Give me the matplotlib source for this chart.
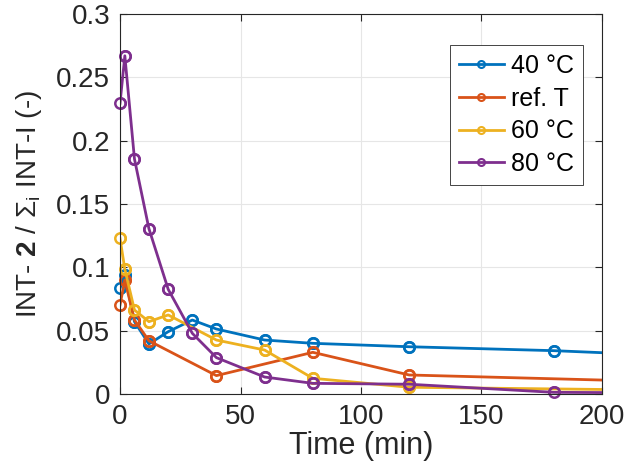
import numpy as np
import matplotlib
matplotlib.use('Agg')
import matplotlib.pyplot as plt

plt.rcParams['font.family'] = ['Liberation Sans', 'DejaVu Sans']
plt.rcParams['mathtext.fontset'] = 'custom'
plt.rcParams['mathtext.rm'] = 'Liberation Sans'
plt.rcParams['mathtext.it'] = 'Liberation Sans:italic'
plt.rcParams['mathtext.bf'] = 'Liberation Sans:bold'

# data (time in min)
t_40 = [0, 2, 6, 12, 20, 30, 40, 60, 80, 120, 180, 240]
v_40 = [0.0834, 0.094, 0.0571, 0.0395, 0.0492, 0.0584, 0.0513, 0.0426, 0.040, 0.0373, 0.0342, 0.0294]

t_ref = [0, 2, 6, 12, 40, 80, 120, 240]
v_ref = [0.0703, 0.090, 0.0584, 0.042, 0.0145, 0.0329, 0.015, 0.009]

t_60 = [0, 2, 6, 12, 20, 40, 60, 80, 120, 240]
v_60 = [0.1229, 0.0984, 0.0663, 0.0571, 0.0624, 0.0426, 0.0347, 0.0124, 0.0053, 0.0027]

t_80 = [0, 2, 6, 12, 20, 30, 40, 60, 80, 120, 180, 240]
v_80 = [0.2295, 0.267, 0.1855, 0.1305, 0.0826, 0.0479, 0.0287, 0.0134, 0.0084, 0.0077, 0.0013, 0.0008]

labels = ['40 °C', 'ref. T', '60 °C', '80 °C']
colors = ['#0072BD', '#D95319', '#EDB120', '#7E2F8E']

yticks = [0, 0.05, 0.1, 0.15, 0.2, 0.25, 0.3]
ytick_labels = ['0', '0.05', '0.1', '0.15', '0.2', '0.25', '0.3']
xticks = [0, 50, 100, 150, 200]
xmax = 200

fig = plt.figure(figsize=(6.3, 4.76), dpi=100)
ax = fig.add_axes([0.1905, 0.1723, 0.765, 0.7983])

series = [(t_40, v_40), (t_ref, v_ref), (t_60, v_60), (t_80, v_80)]
for (t, v), lab, c in zip(series, labels, colors):
    t = np.array(t)
    v = np.array(v)
    ax.plot(t, v, '-o', color=c, lw=2, ms=7.5, mfc='none', mew=1.8, label=lab)
    # markers on the axis edge are not clipped (as in MATLAB)
    inside = t <= xmax
    ax.plot(t[inside], v[inside], 'o', color=c, ms=7.5, mfc='none', mew=1.8,
            clip_on=False)

ax.set_xlim(0, xmax)
ax.set_ylim(0, 0.3)
ax.set_xticks(xticks)
ax.set_yticks(yticks)
ax.set_yticklabels(ytick_labels)
ax.tick_params(direction='in', top=True, right=True, labelsize=20, length=5,
               width=0.8, pad=7, colors='#262626')
ax.grid(True, color='#e6e6e6', lw=0.8)
ax.set_axisbelow(True)
for s in ax.spines.values():
    s.set_color('#262626')
    s.set_linewidth(0.8)

ax.set_xlabel('Time (min)', fontsize=22, color='#262626', labelpad=1)
ax.set_ylabel(r'INT- $\mathbf{2}$ / $\Sigma_\mathrm{i}$ INT-I (-)', fontsize=20,
              color='#262626', labelpad=9)

leg = ax.legend(loc='upper right', fontsize=18, fancybox=False, framealpha=1,
                edgecolor='#262626', handlelength=1.8, handletextpad=0.3,
                labelspacing=0.35, borderpad=0.35, borderaxespad=0,
                bbox_to_anchor=(0.961, 0.918))
leg.get_frame().set_linewidth(0.6)
for h in leg.legend_handles:
    h.set_markersize(5)
    h.set_markeredgewidth(1.5)

fig.savefig('out.png', dpi=100)
